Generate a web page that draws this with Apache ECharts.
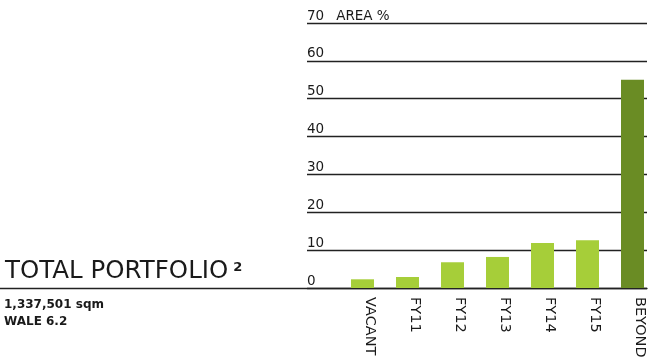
<!DOCTYPE html>
<html>
<head>
<meta charset="utf-8">
<script src="https://cdn.jsdelivr.net/npm/echarts@6/dist/echarts.min.js"></script>
<style>html,body{margin:0;padding:0;background:#fff}#c{width:655px;height:363px}</style>
</head>
<body>
<div id="c"></div>
<script>
var categories = ['VACANT', 'FY11', 'FY12', 'FY13', 'FY14', 'FY15', 'BEYOND'];
var areaPct = [2.3, 2.9, 6.8, 8.2, 11.9, 12.6, 55.0];
var barColors = ['#a6ce39', '#a6ce39', '#a6ce39', '#a6ce39', '#a6ce39', '#a6ce39', '#6a8c24'];
var yMin = 0, yMax = 70, yStep = 10;
var yUnit = 'AREA %';
var titleMain = 'TOTAL PORTFOLIO';
var titleSup = '2';
var subLines = ['1,337,501 sqm', 'WALE 6.2'];

var FONT = 'DejaVu Sans';
var INK = '#1a1a1a';
var chart = echarts.init(document.getElementById('c'), null, {renderer: 'canvas'});
var common = {top: 23, bottom: 75};
chart.setOption({
  animation: false,
  textStyle: {fontFamily: FONT},
  title: [
    {
      left: 5, top: 259, padding: 0,
      text: '{a|' + titleMain + '}{b|' + titleSup + '}',
      textStyle: {
        rich: {
          a: {fontFamily: FONT, fontSize: 24.5, color: INK, fontWeight: 400, verticalAlign: 'bottom'},
          b: {fontFamily: FONT, fontSize: 13, color: INK, padding: [0, 0, 7, 5]}
        }
      }
    },
    {
      left: 4, top: 296, padding: 0,
      text: subLines.join('\n'),
      textStyle: {fontFamily: FONT, fontSize: 12, fontWeight: 'bold', color: INK, lineHeight: 17}
    }
  ],
  grid: [
    Object.assign({left: 307, right: 8, containLabel: false}, common),
    Object.assign({left: 340, width: 318, containLabel: false}, common),
    Object.assign({left: 0, right: 8, containLabel: false}, common)
  ],
  xAxis: [
    {gridIndex: 0, type: 'value', show: false, min: 0, max: 1},
    {gridIndex: 1, type: 'category', data: categories,
      axisLine: {show: false}, axisTick: {show: false},
      axisLabel: {rotate: -90, align: 'left', verticalAlign: 'bottom', margin: 9,
        fontFamily: FONT, fontSize: 14.5, color: INK, interval: 0}},
    {gridIndex: 2, type: 'value', min: 0, max: 1,
      axisLine: {show: true, lineStyle: {color: '#222', width: 1.3}},
      axisTick: {show: false}, axisLabel: {show: false}, splitLine: {show: false}}
  ],
  yAxis: [
    {gridIndex: 0, type: 'value', min: yMin, max: yMax, interval: yStep,
      axisLine: {show: false}, axisTick: {show: false},
      splitLine: {show: true, lineStyle: {color: '#222', width: 1.3}},
      axisLabel: {inside: true, margin: 0, verticalAlign: 'bottom', align: 'left',
        formatter: function (v) {
          return v === yMax ? '{n|' + v + '}{u|' + yUnit + '}' : '{n|' + v + '}';
        },
        rich: {
          n: {fontFamily: FONT, fontSize: 13.5, color: INK, lineHeight: 14},
          u: {fontFamily: FONT, fontSize: 13.5, color: INK, lineHeight: 14, padding: [0, 0, 0, 12]}
        }}},
    {gridIndex: 1, type: 'value', min: yMin, max: yMax, show: false},
    {gridIndex: 2, type: 'value', min: yMin, max: yMax, show: false}
  ],
  series: [{
    type: 'bar', xAxisIndex: 1, yAxisIndex: 1, barWidth: 23,
    data: areaPct.map(function (v, i) { return {value: v, itemStyle: {color: barColors[i]}}; }),
    z: 5
  }]
});
</script>
</body>
</html>
